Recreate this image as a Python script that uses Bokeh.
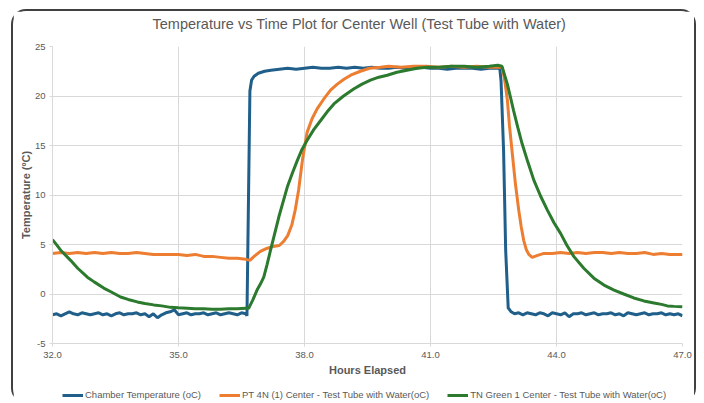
from bokeh.plotting import figure
from bokeh.models import Range1d, FixedTicker, Legend, LegendItem, Title
from bokeh.layouts import column
from bokeh.embed import file_html
from bokeh.resources import INLINE

title_text = "Temperature vs Time Plot for Center Well (Test Tube with Water)"
x_label = "Hours Elapsed"
y_label = "Temperature (ºC)"

x_ticks = [32, 35, 38, 41, 44, 47]
x_tick_labels = ["32.0", "35.0", "38.0", "41.0", "44.0", "47.0"]
y_ticks = [-5, 0, 5, 10, 15, 20, 25]
y_tick_labels = ["-5", "0", "5", "10", "15", "20", "25"]

series_names = [
    "Chamber Temperature (oC)",
    "PT 4N (1) Center - Test Tube with Water(oC)",
    "TN Green 1 Center - Test Tube with Water(oC)",
]

chamber_x = [32.0, 32.1, 32.2, 32.3, 32.4, 32.5, 32.6, 32.7, 32.8, 32.9,
             33.0, 33.1, 33.2, 33.3, 33.4, 33.5, 33.6, 33.7, 33.8, 33.9,
             34.0, 34.1, 34.2, 34.3, 34.4, 34.5, 34.6, 34.7, 34.8, 34.9,
             35.0, 35.1, 35.2, 35.3, 35.4, 35.5, 35.6, 35.7, 35.8, 35.9,
             36.0, 36.1, 36.2, 36.3, 36.4, 36.5, 36.6, 36.63,
             36.70, 36.74, 36.8, 36.9, 37.05, 37.2, 37.4, 37.6, 37.8,
             38.0, 38.2, 38.4, 38.6, 38.8, 39.0, 39.2, 39.4, 39.6, 39.8,
             40.0, 40.2, 40.4, 40.6, 40.8, 41.0, 41.2, 41.4, 41.6, 41.8,
             42.0, 42.2, 42.4, 42.65, 42.68, 42.74, 42.79, 42.85, 42.92,
             43.0, 43.1, 43.2, 43.3, 43.4, 43.5, 43.6, 43.7, 43.8, 43.9,
             44.0, 44.1, 44.2, 44.3, 44.4, 44.5, 44.6, 44.7, 44.8, 44.9,
             45.0, 45.1, 45.2, 45.3, 45.4, 45.5, 45.6, 45.7, 45.8, 45.9,
             46.0, 46.1, 46.2, 46.3, 46.4, 46.5, 46.6, 46.7, 46.8, 46.9, 47.0]
chamber_y = [-2.1, -2.0, -2.2, -2.0, -1.8, -2.0, -2.1, -1.9, -2.0, -2.1,
             -2.0, -1.9, -2.1, -2.0, -2.2, -2.0, -1.9, -2.1, -2.0, -2.0,
             -1.9, -2.1, -2.0, -2.3, -2.0, -2.4, -2.1, -1.9, -1.8, -1.6,
             -2.1, -2.0, -1.9, -2.1, -2.0, -2.0, -1.9, -2.1, -2.0, -1.9,
             -2.1, -2.0, -1.9, -2.0, -2.1, -1.9, -2.0, -2.2,
             20.5, 21.6, 22.0, 22.3, 22.5, 22.6, 22.7, 22.8, 22.7,
             22.8, 22.9, 22.8, 22.8, 22.9, 22.8, 22.9, 22.8, 22.9, 22.8,
             22.8, 22.9, 22.8, 22.8, 22.9, 22.8, 22.8, 22.7, 22.8, 22.8,
             22.8, 22.7, 22.8, 22.8, 21.5, 14.5, 4.4, -1.4, -1.8,
             -2.0, -1.9, -2.1, -1.9, -2.0, -2.1, -1.9, -2.0, -2.2, -1.9,
             -2.0, -2.1, -1.9, -2.3, -2.0, -2.0, -1.9, -2.1, -2.0, -1.9,
             -2.1, -2.0, -2.0, -1.9, -2.1, -2.0, -2.2, -1.9, -2.0, -2.1,
             -2.0, -1.9, -2.1, -2.0, -2.0, -1.9, -2.1, -2.0, -2.1, -2.0, -2.2]

pt4n_x = [32.0, 32.2, 32.4, 32.6, 32.8, 33.0, 33.2, 33.4, 33.6, 33.8,
          34.0, 34.2, 34.4, 34.6, 34.8, 35.0, 35.2, 35.4, 35.6, 35.8,
          36.0, 36.2, 36.4, 36.6, 36.7, 36.8, 36.95, 37.1, 37.25, 37.4,
          37.5, 37.6, 37.7, 37.78, 37.86, 37.95, 38.06, 38.18, 38.3, 38.46,
          38.62, 38.78, 38.94, 39.1, 39.33, 39.55, 39.81, 40.0, 40.3, 40.6,
          40.9, 41.2, 41.5, 41.8, 42.1, 42.4, 42.6, 42.71, 42.77, 42.83,
          42.88, 42.94, 43.02, 43.1, 43.16, 43.22, 43.28, 43.34, 43.42, 43.55,
          43.7, 43.9, 44.1, 44.3, 44.5, 44.7, 44.9, 45.1, 45.3, 45.5,
          45.7, 45.9, 46.1, 46.3, 46.5, 46.7, 46.9, 47.0]
pt4n_y = [4.1, 4.2, 4.1, 4.2, 4.1, 4.2, 4.1, 4.2, 4.1, 4.1,
          4.2, 4.1, 4.0, 4.0, 4.0, 4.0, 3.9, 4.0, 3.8, 3.8,
          3.7, 3.6, 3.6, 3.5, 3.4, 3.8, 4.3, 4.6, 4.8, 4.9,
          5.3, 5.9, 7.0, 8.5, 10.5, 13.5, 16.3, 17.7, 18.7, 19.7,
          20.6, 21.2, 21.7, 22.1, 22.5, 22.8, 22.9, 23.0, 22.9, 23.0,
          23.0, 22.9, 23.0, 22.9, 23.0, 22.9, 22.9, 22.9, 21.5, 19.6,
          17.0, 14.5, 11.2, 8.5, 6.8, 5.4, 4.5, 4.0, 3.7, 3.9,
          4.1, 4.1, 4.2, 4.1, 4.2, 4.1, 4.2, 4.2, 4.1, 4.2,
          4.1, 4.1, 4.2, 4.0, 4.1, 4.0, 4.0, 4.0]

tng_x = [32.0, 32.2, 32.43, 32.6, 32.83, 33.0, 33.22, 33.4, 33.62, 33.8,
         34.02, 34.2, 34.41, 34.6, 34.81, 35.0, 35.21, 35.4, 35.6, 35.8,
         36.0, 36.2, 36.4, 36.6, 36.67, 36.77, 36.87, 36.95, 37.03, 37.11,
         37.19, 37.29, 37.39, 37.49, 37.59, 37.71, 37.83, 37.94, 38.06, 38.22,
         38.38, 38.54, 38.70, 38.93, 39.17, 39.37, 39.57, 39.77, 39.97, 40.2,
         40.44, 40.68, 40.92, 41.2, 41.5, 41.8, 42.1, 42.4, 42.6, 42.7,
         42.83, 42.98, 43.08, 43.18, 43.32, 43.46, 43.62, 43.78, 43.94, 44.10,
         44.25, 44.41, 44.65, 44.89, 45.13, 45.37, 45.6, 45.84, 46.08, 46.32,
         46.5, 46.64, 46.8, 47.0]
tng_y = [5.5, 4.4, 3.4, 2.6, 1.7, 1.2, 0.6, 0.2, -0.3, -0.55,
         -0.8, -0.95, -1.1, -1.2, -1.35, -1.4, -1.45, -1.5, -1.5, -1.55,
         -1.55, -1.5, -1.5, -1.45, -1.45, -0.6, 0.4, 1.0, 1.7, 3.0,
         4.4, 6.1, 7.8, 9.3, 10.8, 12.2, 13.5, 14.6, 15.5, 16.6,
         17.5, 18.4, 19.2, 20.0, 20.7, 21.2, 21.6, 21.9, 22.1, 22.4,
         22.6, 22.8, 22.9, 22.9, 23.0, 23.0, 22.9, 23.0, 23.1, 23.0,
         21.2, 18.5, 16.8, 15.2, 13.3, 11.5, 9.9, 8.5, 7.2, 6.1,
         4.9, 3.8, 2.6, 1.6, 0.9, 0.4, 0.0, -0.4, -0.7, -0.9,
         -1.05, -1.2, -1.25, -1.3]

series_x = [chamber_x, pt4n_x, tng_x]
series_y = [chamber_y, pt4n_y, tng_y]
colors = ["#1f5f8a", "#ed7d31", "#2b7a2e"]
FONT = "Liberation Sans"
GRAY = "#595959"
GRID = "#d9d9d9"

# main chart
p = figure(width=681, height=368, x_range=Range1d(32, 47), y_range=Range1d(-5, 25),
           output_backend="svg", toolbar_location=None,
           min_border_left=39, min_border_right=12, min_border_top=35, min_border_bottom=36)
p.outline_line_color = None
p.background_fill_color = "white"
p.border_fill_color = "white"

# blank spacer between the title and the plot area
p.add_layout(Title(text=" ", text_font_size="1px", standoff=10), "above")

p.title.text = title_text
p.title.align = "left"
p.title.offset = 100
p.title.vertical_align = "top"
p.title.standoff = 0
p.title.text_font = FONT
p.title.text_font_size = "14.5px"
p.title.text_font_style = "normal"
p.title.text_color = GRAY

for xs, ys, c in zip(series_x, series_y, colors):
    p.line(xs, ys, line_color=c, line_width=3)

for ax, ticks, labels in ((p.xaxis[0], x_ticks, x_tick_labels), (p.yaxis[0], y_ticks, y_tick_labels)):
    ax.ticker = FixedTicker(ticks=ticks)
    ax.major_label_overrides = {t: l for t, l in zip(ticks, labels)}
    ax.axis_line_color = GRID
    ax.major_tick_line_color = GRID
    ax.major_tick_in = 0
    ax.major_tick_out = 3
    ax.minor_tick_line_color = None
    ax.major_label_text_font = FONT
    ax.major_label_text_font_size = "9.5px"
    ax.major_label_text_color = GRAY
    ax.axis_label_text_font = FONT
    ax.axis_label_text_font_size = "11px"
    ax.axis_label_text_font_style = "bold"
    ax.axis_label_text_color = GRAY

p.xaxis.axis_label = x_label
p.xaxis.major_label_standoff = 5
p.xaxis.axis_label_standoff = 3
p.yaxis.axis_label = y_label
p.yaxis.major_label_standoff = 4
p.yaxis.axis_label_standoff = 0

p.xgrid.ticker = FixedTicker(ticks=x_ticks)
p.ygrid.ticker = FixedTicker(ticks=y_ticks)
p.grid.grid_line_color = GRID
p.grid.grid_line_width = 1

# legend strip below the chart (its lines use the same series, out of this strip's view)
pl = figure(width=681, height=24, x_range=Range1d(0, 1), y_range=Range1d(0, 1),
            output_backend="svg", toolbar_location=None,
            x_axis_location=None, y_axis_location=None, min_border=0)
pl.outline_line_color = None
pl.grid.visible = False
pl.background_fill_color = "white"
pl.border_fill_color = "white"
keys = [pl.line(xs, ys, line_color=c, line_width=3) for xs, ys, c in zip(series_x, series_y, colors)]
legend = Legend(items=[LegendItem(label=n, renderers=[k]) for n, k in zip(series_names, keys)],
                location=(10, 2.5), orientation="horizontal", padding=0, margin=0,
                spacing=18, label_standoff=2, glyph_width=21, glyph_height=12, label_height=12,
                label_text_font=FONT, label_text_font_size="9.5px", label_text_color=GRAY,
                border_line_color=None, background_fill_alpha=0)
pl.add_layout(legend)

layout = column(p, pl, spacing=0,
                styles={"border": "2px solid #404040", "border-bottom": "none",
                        "border-radius": "15px", "margin-left": "11px", "margin-top": "9px"})

open("out.html", "w").write(file_html(layout, INLINE))
